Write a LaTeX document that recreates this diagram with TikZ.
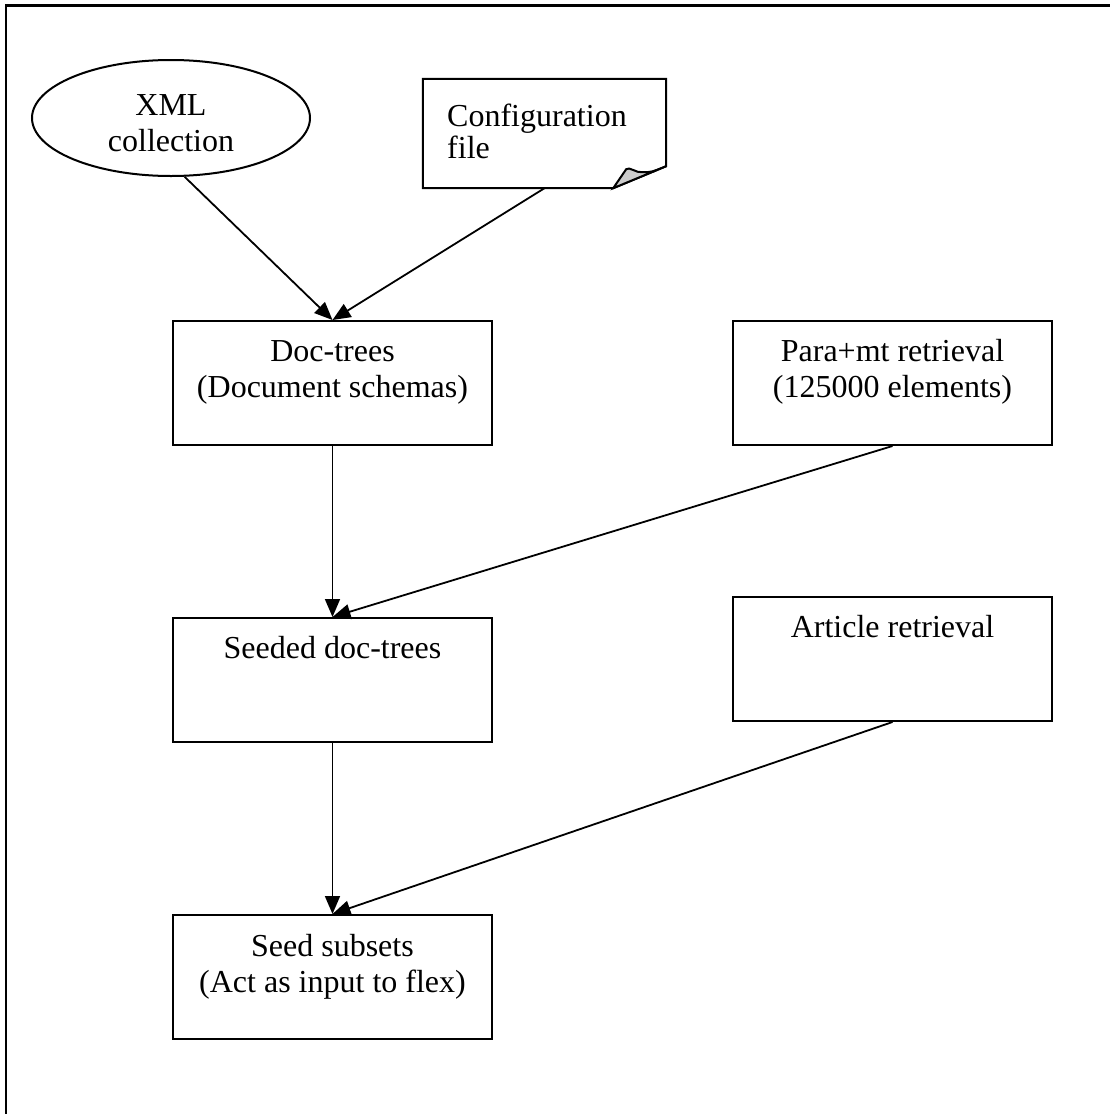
\documentclass[tikz,border=0pt]{standalone}
\usepackage{fontspec}
\setmainfont{Liberation Serif}
\usetikzlibrary{arrows.meta,shapes.geometric}
\begin{document}
\begin{tikzpicture}[x=1pt,y=-1pt,
  box/.style={draw,line width=2pt,minimum width=319pt,minimum height=124pt,inner sep=0pt},
  txt/.style={font=\fontsize{32}{36}\selectfont,align=center,inner sep=0pt,anchor=north},
  arr/.style={line width=1.8pt,-{Triangle[length=18pt,width=15pt]}},
  shape line/.style={line width=2pt,line join=miter}]
\useasboundingbox (0,0) rectangle (1110,1114);
% frame
\draw[line width=2.2pt] (6,1114) -- (6,5.5) -- (1110,5.5);
% nodes
\node[draw,ellipse,line width=2pt,minimum width=278pt,minimum height=116pt,inner sep=0pt] (xml) at (171,118) {};
\node[txt] (xmlt) at (171,89.8) {\strut XML\\collection};
\node[minimum width=243pt,minimum height=109pt,inner sep=0pt] (cfg) at (544.5,133.5) {};
\draw[shape line,fill=white] (cfg.north west) -- (cfg.north east) -- ([yshift=22pt]cfg.south east)
  -- ([xshift=-53pt]cfg.south east) -- (cfg.south west) -- cycle;
\draw[shape line,fill=gray!40] ([xshift=-53pt]cfg.south east) -- ([xshift=-40pt,yshift=19pt]cfg.south east)
  .. controls ([xshift=-37pt,yshift=22pt]cfg.south east) and ([xshift=-30pt,yshift=15pt]cfg.south east)
  .. ([xshift=-24pt,yshift=16pt]cfg.south east)
  .. controls ([xshift=-15pt,yshift=16pt]cfg.south east) .. ([yshift=22pt]cfg.south east) -- cycle;
\node[txt,align=left,anchor=north west,font=\fontsize{32}{31}\selectfont] (cfgt) at (447,103.3) {\strut Configuration\\file};
\node[box] (doc) at (332.5,383) {};
\node[txt] (doct) at ([yshift=-15.8pt]doc.north) {\strut Doc-trees\\(Document schemas)};
\node[box] (para) at (892.5,383) {};
\node[txt] (parat) at ([yshift=-15.8pt]para.north) {\strut Para+mt retrieval\\(125000 elements)};
\node[box] (seeded) at (332.5,680) {};
\node[txt] (seededt) at ([yshift=-15.8pt]seeded.north) {\strut Seeded doc-trees};
\node[box] (article) at (892.5,659) {};
\node[txt] (articlet) at ([yshift=-15.8pt]article.north) {\strut Article retrieval};
\node[box] (subsets) at (332.5,977) {};
\node[txt] (subsetst) at ([yshift=-17pt]subsets.north) {\strut Seed subsets\\(Act as input to flex)};
% connectors
\draw[arr] (xml.-77) -- (doc.north);
\draw[arr] (cfg.south) -- (doc.north);
\draw[arr] (doc.south) -- (seeded.north);
\draw[arr] (para.south) -- (seeded.north);
\draw[arr] (seeded.south) -- (subsets.north);
\draw[arr] (article.south) -- (subsets.north);
\end{tikzpicture}
\end{document}
